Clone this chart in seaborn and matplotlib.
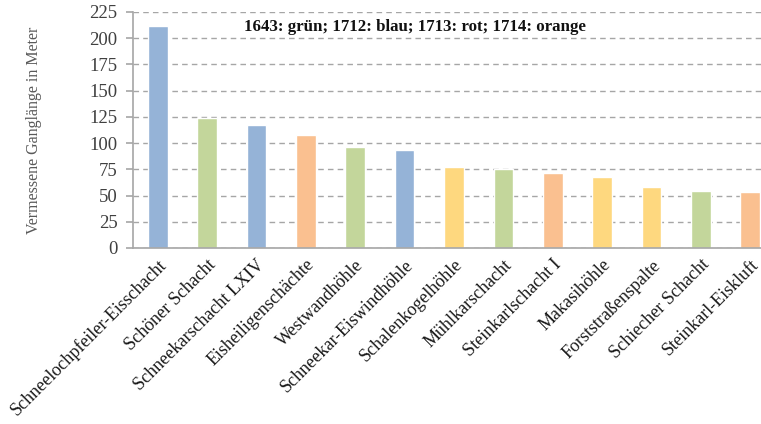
import numpy as np
import pandas as pd
import matplotlib
matplotlib.use("Agg")
import matplotlib.pyplot as plt
import seaborn as sns

caves = ["Schneelochpfeiler-Eisschacht", "Schöner Schacht", "Schneekarschacht LXIV",
         "Eisheiligenschächte", "Westwandhöhle", "Schneekar-Eiswindhöhle",
         "Schalenkogelhöhle", "Mühlkarschacht", "Steinkarlschacht I", "Makasihöhle",
         "Forststraßenspalte", "Schiecher Schacht", "Steinkarl-Eiskluft"]
lengths = [212, 124, 117, 108, 96, 93, 77, 75, 71.5, 68, 58, 54.5, 53.5]
year = ["1712", "1643", "1712", "1714", "1643", "1712", "1713", "1643", "1714",
        "1713", "1713", "1643", "1714"]

# Farbzuordnung wie im Original (Jahr der Vermessung)
year_colors = {"1643": "#c3d69b", "1712": "#95b3d7", "1713": "#fed87f", "1714": "#fac090"}

df = pd.DataFrame({"Höhle": caves, "Länge": lengths, "Jahr": year})

sns.set_style("white")
plt.rcParams["font.family"] = ["Liberation Serif", "DejaVu Serif"]

fig = plt.figure(figsize=(7.61, 4.24), dpi=100)
ax = fig.add_axes([133 / 761, (424 - 248) / 424, 642 / 761, 236 / 424])

sns.barplot(data=df, x="Höhle", y="Länge", hue="Jahr", palette=year_colors,
            dodge=False, width=0.4, legend=False, saturation=1, ax=ax)

ax.set_ylim(0, 225)
ax.set_yticks(np.arange(0, 226, 25))
ax.set_xlim(-0.5, len(caves) - 0.5)
ax.yaxis.grid(True, linestyle=(0, (4, 3)), color="#a6a6a6", linewidth=1)
ax.set_axisbelow(True)

for s in ["top", "right"]:
    ax.spines[s].set_visible(False)
for s in ["left", "bottom"]:
    ax.spines[s].set_color("#a6a6a6")
    ax.spines[s].set_linewidth(1.2)

ax.set_xticks(np.arange(len(caves)))
ax.set_xticklabels(caves, rotation=45, ha="right", rotation_mode="anchor",
                   fontsize=13, color="#1a1a1a")
ax.tick_params(axis="x", length=0, pad=6)
ax.set_xticks(np.arange(len(caves) + 1) - 0.5, minor=True)
ax.tick_params(axis="x", which="minor", length=5, color="#a6a6a6", width=1.2)
ax.tick_params(axis="y", length=5, color="#a6a6a6", width=1.2, labelsize=13.5,
               labelcolor="#404040", pad=6, left=True)

ax.set_xlabel("")
ax.set_ylabel("Vermessene Ganglänge in Meter", fontsize=11.5, color="#595959", labelpad=34)

ax.text(0.44, 0.935, "1643: grün; 1712: blau; 1713: rot; 1714: orange",
        transform=ax.transAxes, ha="center", va="center", fontsize=12.2,
        fontweight="bold", color="#111111")

fig.savefig("out.png", dpi=100)
